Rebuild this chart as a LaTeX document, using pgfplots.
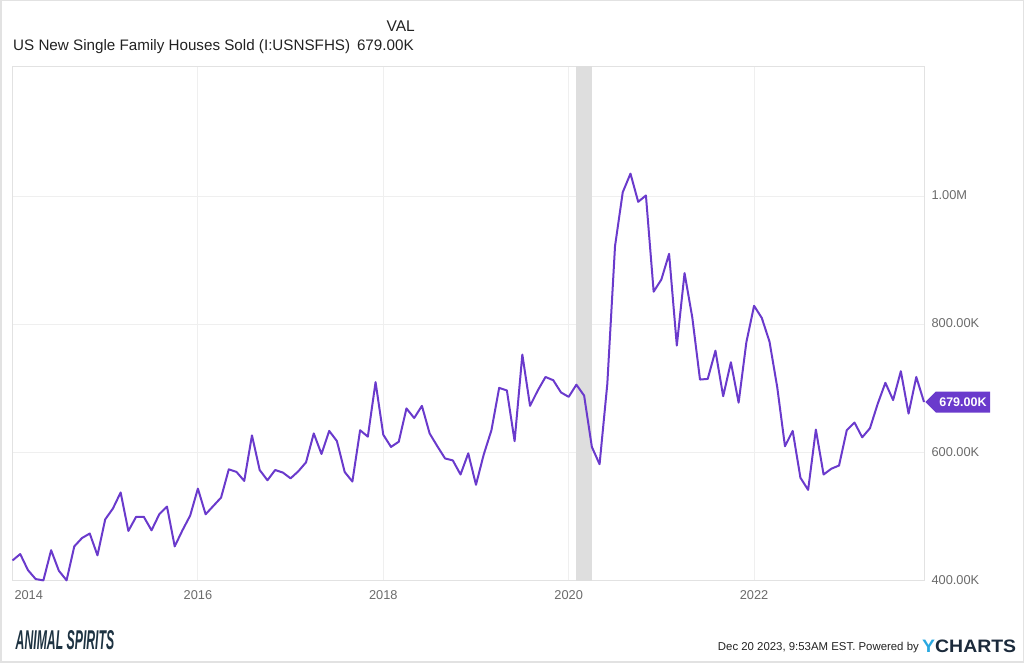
\documentclass[border=0pt]{standalone}
\usepackage{fontspec}
\setmainfont{Liberation Sans}
\usepackage{pgfplots}
\pgfplotsset{compat=1.18}
\usetikzlibrary{shapes.symbols}
\definecolor{lineC}{HTML}{6A3ACC}
\definecolor{gridC}{HTML}{EFEFEF}
\definecolor{boxC}{HTML}{E2E2E2}
\definecolor{recC}{HTML}{DEDEDE}
\definecolor{tickC}{HTML}{6A6A6A}
\definecolor{titleC}{HTML}{222222}
\definecolor{ycBlue}{HTML}{2AA8E0}
\definecolor{ycDark}{HTML}{1B2A3B}
\definecolor{asC}{HTML}{1E3342}
\begin{document}
\begin{tikzpicture}[x=1pt,y=1pt]
\useasboundingbox (0,0) rectangle (1024,663);
\draw[color=boxC, line width=1.5pt] (0.75,0.75) rectangle (1023.25,662.25);
% titles
\node[anchor=east, font=\fontsize{15.5}{18}\selectfont, text=titleC, inner sep=0] at (415,637) {VAL};
\node[anchor=west, font=\fontsize{15.2}{18}\selectfont, text=titleC, inner sep=0] at (13,616) {US New Single Family Houses Sold (I:USNSFHS)\hspace{0.45em}679.00K};
\begin{axis}[
  at={(12.5pt,82pt)}, anchor=south west,
  scale only axis, width=911.5pt, height=514.5pt,
  xmin=0, xmax=118, ymin=400, ymax=1202,
  axis line style={draw=boxC, line width=1pt},
  grid=major, grid style={draw=gridC, line width=1pt},
  xtick={0,24,48,72,96},
  xticklabels={\makebox[0pt][l]{\hspace{2pt}2014},2016,2018,2020,2022},
  ytick={400,600,800,1000},
  yticklabels={400.00K,600.00K,800.00K,1.00M},
  yticklabel pos=right,
  major tick length=0pt,
  tick label style={font=\fontsize{12.8}{14}\selectfont, text=tickC},
  x tick label style={yshift=-6pt},
  y tick label style={xshift=4pt, yshift=1pt},
  clip=false,
  axis on top=false,
]
\fill[recC] (axis cs:73,400) rectangle (axis cs:75,1202);
\addplot[lineC, line width=2pt, line join=round] coordinates {
(0,432) (1,442) (2,417) (3,403) (4,401) (5,448) (6,416) (7,401) (8,454) (9,467)
(10,474) (11,440) (12,496) (13,513) (14,538) (15,478) (16,500) (17,500) (18,479) (19,504)
(20,516) (21,454) (22,479) (23,502) (24,544) (25,504) (26,517) (27,530) (28,574) (29,570)
(30,556) (31,627) (32,573) (33,557) (34,573) (35,569) (36,560) (37,571) (38,585) (39,630)
(40,598) (41,634) (42,618) (43,570) (44,555) (45,635) (46,625) (47,710) (48,628) (49,609)
(50,617) (51,669) (52,654) (53,673) (54,630) (55,610) (56,591) (57,588) (58,566) (59,599)
(60,550) (61,597) (62,635) (63,701) (64,697) (65,618) (66,753) (67,673) (68,697) (69,718)
(70,713) (71,694) (72,687) (73,706) (74,689) (75,609) (76,582) (77,707) (78,922) (79,1006)
(80,1035) (81,991) (82,1001) (83,851) (84,870) (85,910) (86,767) (87,880) (88,811) (89,714)
(90,715) (91,759) (92,688) (93,741) (94,678) (95,772) (96,829) (97,810) (98,773) (99,702)
(100,610) (101,634) (102,561) (103,542) (104,636) (105,566) (106,575) (107,580) (108,635) (109,647)
(110,624) (111,638) (112,676) (113,709) (114,682) (115,727) (116,661) (117,718) (118,679)
};
\node[signal, signal to=west, signal pointer angle=90, fill=lineC, text=white,
      font=\bfseries\fontsize{12.5}{14}\selectfont, inner xsep=3.5pt, inner ysep=3pt,
      minimum height=21pt, anchor=west] at ([xshift=1pt]axis cs:118,679) {679.00K};
\end{axis}
% footer
\node[anchor=center, text=asC, font=\bfseries\itshape\fontsize{17}{20}\selectfont, xscale=0.72, yscale=1.6] at (65,23) {ANIMAL SPIRITS};
\node[anchor=east, text=titleC, font=\fontsize{11.4}{14}\selectfont, inner sep=0] at (919,15) {Dec 20 2023, 9:53AM EST. Powered by};
\node[anchor=west, font=\bfseries\fontsize{18}{20}\selectfont, inner sep=0, xscale=1.08] at (922,16.5) {\textcolor{ycBlue}{Y}\textcolor{ycDark}{CHARTS}};
\end{tikzpicture}
\end{document}
